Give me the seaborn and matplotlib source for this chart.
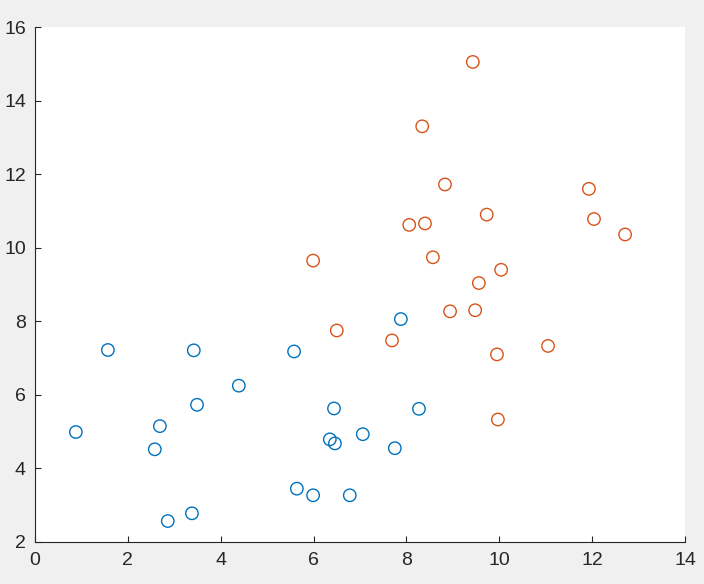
import numpy as np
import pandas as pd
import matplotlib
matplotlib.use('Agg')
import matplotlib.pyplot as plt
import seaborn as sns

# blue group
blue_x = [0.88, 1.57, 2.69, 2.58, 2.86, 3.38, 3.42, 3.49, 4.39, 5.58,
          5.64, 5.99, 6.78, 6.44, 6.35, 6.46, 7.06, 7.75, 7.88, 8.27]
blue_y = [4.99, 7.22, 5.15, 4.52, 2.57, 2.78, 7.21, 5.73, 6.25, 7.18,
          3.45, 3.27, 3.27, 5.63, 4.79, 4.68, 4.93, 4.55, 8.06, 5.62]

# orange group
red_x = [9.43, 8.34, 8.83, 11.93, 9.73, 12.04, 8.06, 8.40, 12.71, 8.57,
         5.99, 10.04, 9.56, 8.94, 9.48, 6.50, 7.69, 11.05, 9.95, 9.97]
red_y = [15.05, 13.30, 11.72, 11.60, 10.90, 10.78, 10.62, 10.66, 10.36, 9.74,
         9.65, 9.40, 9.04, 8.27, 8.30, 7.75, 7.48, 7.33, 7.10, 5.33]

df = pd.DataFrame({
    'x': blue_x + red_x,
    'y': blue_y + red_y,
    'grp': ['a'] * len(blue_x) + ['b'] * len(red_x),
})

sns.set_style('white')
plt.rcParams['font.family'] = ['Liberation Sans', 'DejaVu Sans']

fig = plt.figure(figsize=(7.04, 5.84), dpi=100, facecolor='#f0f0f0')
ax = fig.add_axes([35 / 704, 42 / 584, 650 / 704, 515 / 584])
ax.set_facecolor('white')

sns.scatterplot(data=df, x='x', y='y', hue='grp', ax=ax, legend=False,
                palette={'a': '#0072BD', 'b': '#D95319'},
                marker='o', s=80, facecolors='none', linewidth=1.0)
# hollow markers: move hue colour to the edge
for coll in ax.collections:
    fc = coll.get_facecolors()
    coll.set_edgecolors(fc)
    coll.set_facecolors('none')

ax.set_xlim(0, 14)
ax.set_ylim(2, 16)
ax.set_xticks(range(0, 15, 2))
ax.set_yticks(range(2, 17, 2))
ax.set_xlabel('')
ax.set_ylabel('')
for s in ['top', 'right']:
    ax.spines[s].set_visible(False)
for s in ['left', 'bottom']:
    ax.spines[s].set_color('#262626')
    ax.spines[s].set_linewidth(0.8)
ax.tick_params(direction='in', length=4, width=0.8, colors='#262626',
               labelsize=14, left=True, bottom=True)
ax.tick_params(axis='x', pad=7)
ax.tick_params(axis='y', pad=6.5)

plt.savefig('out.png', dpi=100, facecolor=fig.get_facecolor())
